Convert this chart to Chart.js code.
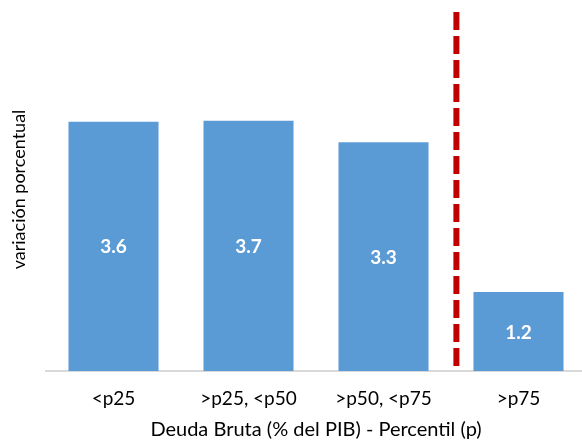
<!DOCTYPE html>
<html>
<head>
<meta charset="utf-8">
<script src="https://cdn.jsdelivr.net/npm/chart.js@4"></script>
<style>
    body { margin: 0; overflow: hidden; background: #fff; }
    #wrap { width: 586px; height: 442px; }
</style>
</head>
<body>
<div id="wrap"><canvas id="myChart"></canvas></div>
<script>
// datos
const categorias = ['<p25', '>p25, <p50', '>p50, <p75', '>p75'];
const valores = [3.64, 3.655, 3.34, 1.155];
const separador = 2.54; // posicion de la linea roja (entre p50-p75 y >p75)

const fuente = 'Lato, "Open Sans", sans-serif';

// linea roja discontinua
const lineaRoja = {
    id: 'lineaRoja',
    afterDatasetsDraw(chart) {
        const x = chart.scales.x.getPixelForValue(separador);
        const area = chart.chartArea;
        const c = chart.ctx;
        c.save();
        c.strokeStyle = '#C00000';
        c.lineWidth = 6;
        c.setLineDash([18, 6]);
        c.beginPath();
        c.moveTo(x, area.top + 4);
        c.lineTo(x, area.bottom);
        c.stroke();
        c.restore();
    }
};

// etiquetas blancas dentro de las barras
const etiquetas = {
    id: 'etiquetas',
    afterDatasetsDraw(chart) {
        const c = chart.ctx;
        const meta = chart.getDatasetMeta(0);
        c.save();
        c.fillStyle = '#fff';
        c.font = 'bold 19px ' + fuente;
        c.textAlign = 'center';
        c.textBaseline = 'middle';
        meta.data.forEach((bar, i) => {
            c.fillText(valores[i].toFixed(1), bar.x, (bar.y + bar.base) / 2 + 1);
        });
        c.restore();
    }
};

const ctx = document.getElementById('myChart').getContext('2d');
const myChart = new Chart(ctx, {
    type: 'bar',
    data: {
        labels: categorias,
        datasets: [{
            data: valores,
            backgroundColor: '#5B9BD5',
            categoryPercentage: 1,
            barPercentage: 0.667
        }]
    },
    options: {
        responsive: true,
        maintainAspectRatio: false,
        animation: false,
        layout: { padding: { top: 8, right: 0, bottom: 0, left: 0 } },
        scales: {
            x: {
                grid: { display: false, drawTicks: false },
                border: { color: '#D9D9D9', width: 2 },
                ticks: {
                    color: '#000',
                    padding: 16,
                    font: { size: 19, family: fuente }
                },
                title: {
                    display: true,
                    text: 'Deuda Bruta (% del PIB) - Percentil (p)',
                    color: '#000',
                    padding: { top: 4, bottom: 0 },
                    font: { size: 20, family: fuente }
                },
                afterFit(scale) { scale.height = 71; }
            },
            y: {
                min: 0,
                max: 5.3,
                grid: { display: false, drawTicks: false },
                border: { display: false },
                ticks: { display: false },
                title: {
                    display: true,
                    text: 'variación porcentual',
                    color: '#000',
                    padding: { top: 8, bottom: 4 },
                    font: { size: 18, family: fuente }
                },
                afterFit(scale) { scale.width = 46; }
            }
        },
        plugins: {
            legend: { display: false },
            tooltip: { enabled: false }
        }
    },
    plugins: [lineaRoja, etiquetas]
});
</script>
</body>
</html>
